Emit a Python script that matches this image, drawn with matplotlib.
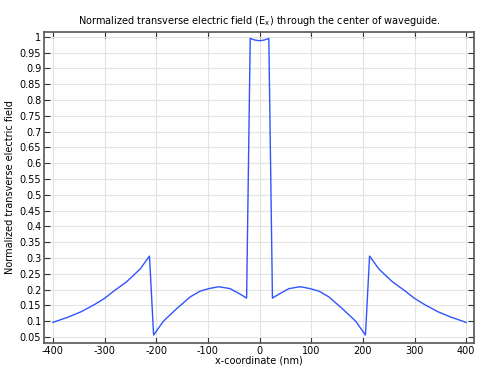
import matplotlib
matplotlib.use("Agg")
import matplotlib.pyplot as plt
import numpy as np

# x positions (nm) and normalized field values
x_nm = [-400, -370, -345, -320, -300, -283, -257, -231, -213,
        -205, -186, -160, -134, -115, -98, -79, -57, -38, -25,
        -18, -9, 0, 9, 18,
        25, 38, 57, 79, 98, 115, 134, 160, 186, 205,
        213, 231, 257, 283, 300, 320, 345, 370, 400]
field = [0.096, 0.113, 0.130, 0.152, 0.172, 0.194, 0.225, 0.265, 0.306,
         0.056, 0.100, 0.140, 0.177, 0.195, 0.203, 0.209, 0.203, 0.186, 0.173,
         0.995, 0.990, 0.988, 0.990, 0.995,
         0.173, 0.186, 0.203, 0.209, 0.203, 0.195, 0.177, 0.140, 0.100, 0.056,
         0.306, 0.265, 0.225, 0.194, 0.172, 0.152, 0.130, 0.113, 0.096]

x_ticks = np.arange(-400, 401, 100)
y_ticks = np.round(np.arange(0.05, 1.001, 0.05), 2)

plt.rcParams['font.family'] = ['DejaVu Sans']
plt.rcParams['mathtext.default'] = 'regular'
plt.rcParams['axes.unicode_minus'] = False

fig = plt.figure(figsize=(4.79, 3.66), dpi=100)
ax = fig.add_axes([0.092, 0.063, 0.898, 0.85])

ax.plot(x_nm, field, color='#2f54ff', linewidth=1.0)

ax.set_xlim(-417, 415.5)
ax.set_ylim(0.031, 1.016)
ax.set_xticks(x_ticks)
ax.set_yticks(y_ticks)
ax.set_yticklabels([f"{v:g}" for v in y_ticks])
ax.grid(True, color='#e3e3e3', linewidth=0.8)
ax.set_axisbelow(True)

ax.tick_params(direction='in', top=True, right=True, labelsize=7,
               length=4, width=0.8, color='#333333', pad=2)
for s in ax.spines.values():
    s.set_color('#555555')
    s.set_linewidth(1.2)

ax.set_xlabel('x-coordinate (nm)', fontsize=7, labelpad=0)
ax.set_ylabel('Normalized transverse electric field', fontsize=7, labelpad=3)
ax.set_title('Normalized transverse electric field (E$_x$) through the center of waveguide.',
             fontsize=7, pad=6)

fig.savefig('out.png', dpi=100)
